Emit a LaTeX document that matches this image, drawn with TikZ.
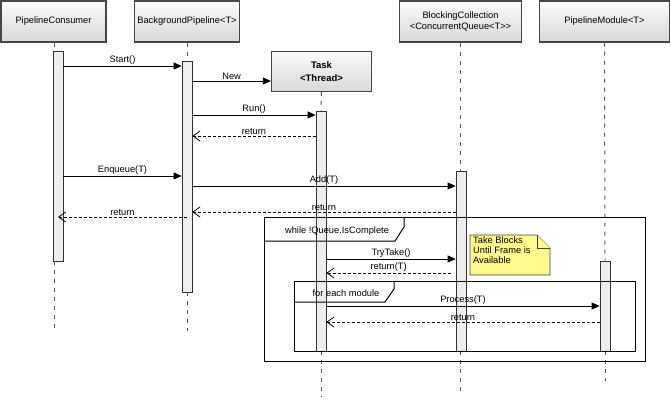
\documentclass[tikz,border=0pt]{standalone}
\usepackage{fontspec}
\setmainfont{Liberation Sans}
\usetikzlibrary{arrows.meta}
\begin{document}
\begin{tikzpicture}[x=1pt,y=-1pt,
  font=\fontsize{9.3}{11}\selectfont,
  head/.style={draw=gray!55!black, line width=1.3pt, top color=gray!4, bottom color=gray!30,
    inner sep=0pt, align=center},
  bar/.style={draw=black!80, fill=gray!13, line width=0.7pt, inner sep=0pt, minimum width=10pt},
  life/.style={draw=gray!70!black, line width=1pt, dash pattern=on 4pt off 5pt},
  msg/.style={draw=black, line width=0.8pt, -{Triangle[length=8pt,width=7pt]}},
  ret/.style={draw=black, line width=0.8pt, dash pattern=on 3pt off 2pt,
    -{Straight Barb[length=7pt,width=10pt,line width=0.8pt]}},
  lbl/.style={above, inner sep=1.2pt},
  frame/.style={draw=black, line width=1pt},
  note/.style={draw=black!75, fill=yellow!45, line width=0.8pt}]
\useasboundingbox (0,0) rectangle (671,402);

% headers
\node[head, minimum width=105pt, minimum height=41pt] (pc) at (53.5,21.5) {PipelineConsumer};
\node[head, minimum width=105pt, minimum height=41pt] (bg) at (187,21.5) {BackgroundPipeline<T>};
\node[head, minimum width=100pt, minimum height=40pt, font=\fontsize{9.5}{13}\selectfont\bfseries] (tk) at (321.5,71.5) {Task\\<Thread>};
\node[head, minimum width=122pt, minimum height=41pt, font=\fontsize{9.3}{11}\selectfont] (bc) at (460.5,21.5) {BlockingCollection\\<ConcurrentQueue<T>{}>};
\node[head, minimum width=130pt, minimum height=41pt] (pm) at (604.5,21.5) {PipelineModule<T>};

% activation bars
\node[bar, minimum height=210pt] (pcbar) at (58,156) {};
\node[bar, minimum height=231pt] (bgbar) at (187,176.5) {};
\node[bar, minimum height=240pt] (tkbar) at (321,231) {};
\node[bar, minimum height=180pt] (bcbar) at (461,261) {};
\node[bar, minimum height=90pt] (pmbar) at (605,306) {};

% lifeline ends
\coordinate (pcend) at (54,331);
\coordinate (bgend) at (187,331);
\coordinate (tkend) at (321,397);
\coordinate (bcend) at (460,391);
\coordinate (pmend) at (605,381);

\draw[life] (pc.south -| pcend) -- (pcbar.north -| pcend);
\draw[life] (pcbar.south -| pcend) -- (pcend);
\draw[life] (bg.south) -- (bgbar.north);
\draw[life] (bgbar.south) -- (bgend);
\draw[life] (tk.south) -- (tkbar.north);
\draw[life] (tkbar.south) -- (tkend);
\draw[life] (bc.south -| bcend) -- (bcbar.north -| bcend);
\draw[life] (bcbar.south -| bcend) -- (bcend);
\draw[life] (pm.south) -- (pmbar.north);
\draw[life] (pmbar.south) -- (pmend);

% frames
\draw[frame] (264,217) rectangle (645,361);
\draw[frame] (264,241) -- (395,241) -- (404,227) -- (404,217);
\node (wl) at (337,231) {while !Queue.IsComplete};
\draw[frame] (294,281) rectangle (635,351);
\draw[frame] (294,302) -- (385,302) -- (394,289) -- (394,281);
\node (fe) at (346,293) {for each module};

% messages
\draw[msg] (pcbar.east |- 0,66) -- node[lbl]{Start()} (bgbar.west |- 0,66);
\draw[msg] (bgbar.east |- 0,81) -- node[lbl]{New} (tk.west |- 0,81);
\draw[msg] (bgbar.east |- 0,115) -- node[lbl]{Run()} (tkbar.west |- 0,115);
\draw[ret] (tkbar.west |- 0,136) -- node[lbl]{return} (bgbar.east |- 0,136);
\draw[msg] (pcbar.east |- 0,176) -- node[lbl]{Enqueue(T)} (bgbar.west |- 0,176);
\draw[msg] (bgbar.east |- 0,186) -- node[lbl]{Add(T)} (bcbar.west |- 0,186);
\draw[ret] (bcbar.west |- 0,212) -- node[lbl]{return} (bgbar.east |- 0,212);
\draw[ret] (bgbar.center |- 0,217) -- node[lbl]{return} (pcbar.center |- 0,217);
\draw[msg] (tkbar.east |- 0,259) -- node[lbl]{TryTake()} (bcbar.west |- 0,259);
\draw[ret] (451,273) coordinate (rt) -- node[lbl]{return(T)} (tkbar.east |- rt);
\draw[msg] (tkbar.east |- 0,306) -- node[lbl]{Process(T)} (pmbar.west |- 0,306);
\draw[ret] (pmbar.west |- 0,322) -- node[lbl]{return} (tkbar.east |- 0,322);

% note
\draw[note] (470,235) -- (537,235) -- (550,248) -- (550,275) -- (470,275) -- cycle;
\draw[note] (537,235) -- (537,248) -- (550,248);
\node[anchor=north west, align=left, inner sep=0pt, font=\fontsize{9.3}{10}\selectfont] (nt) at (473,237) {Take Blocks\\Until Frame is\\Available};
\end{tikzpicture}
\end{document}
